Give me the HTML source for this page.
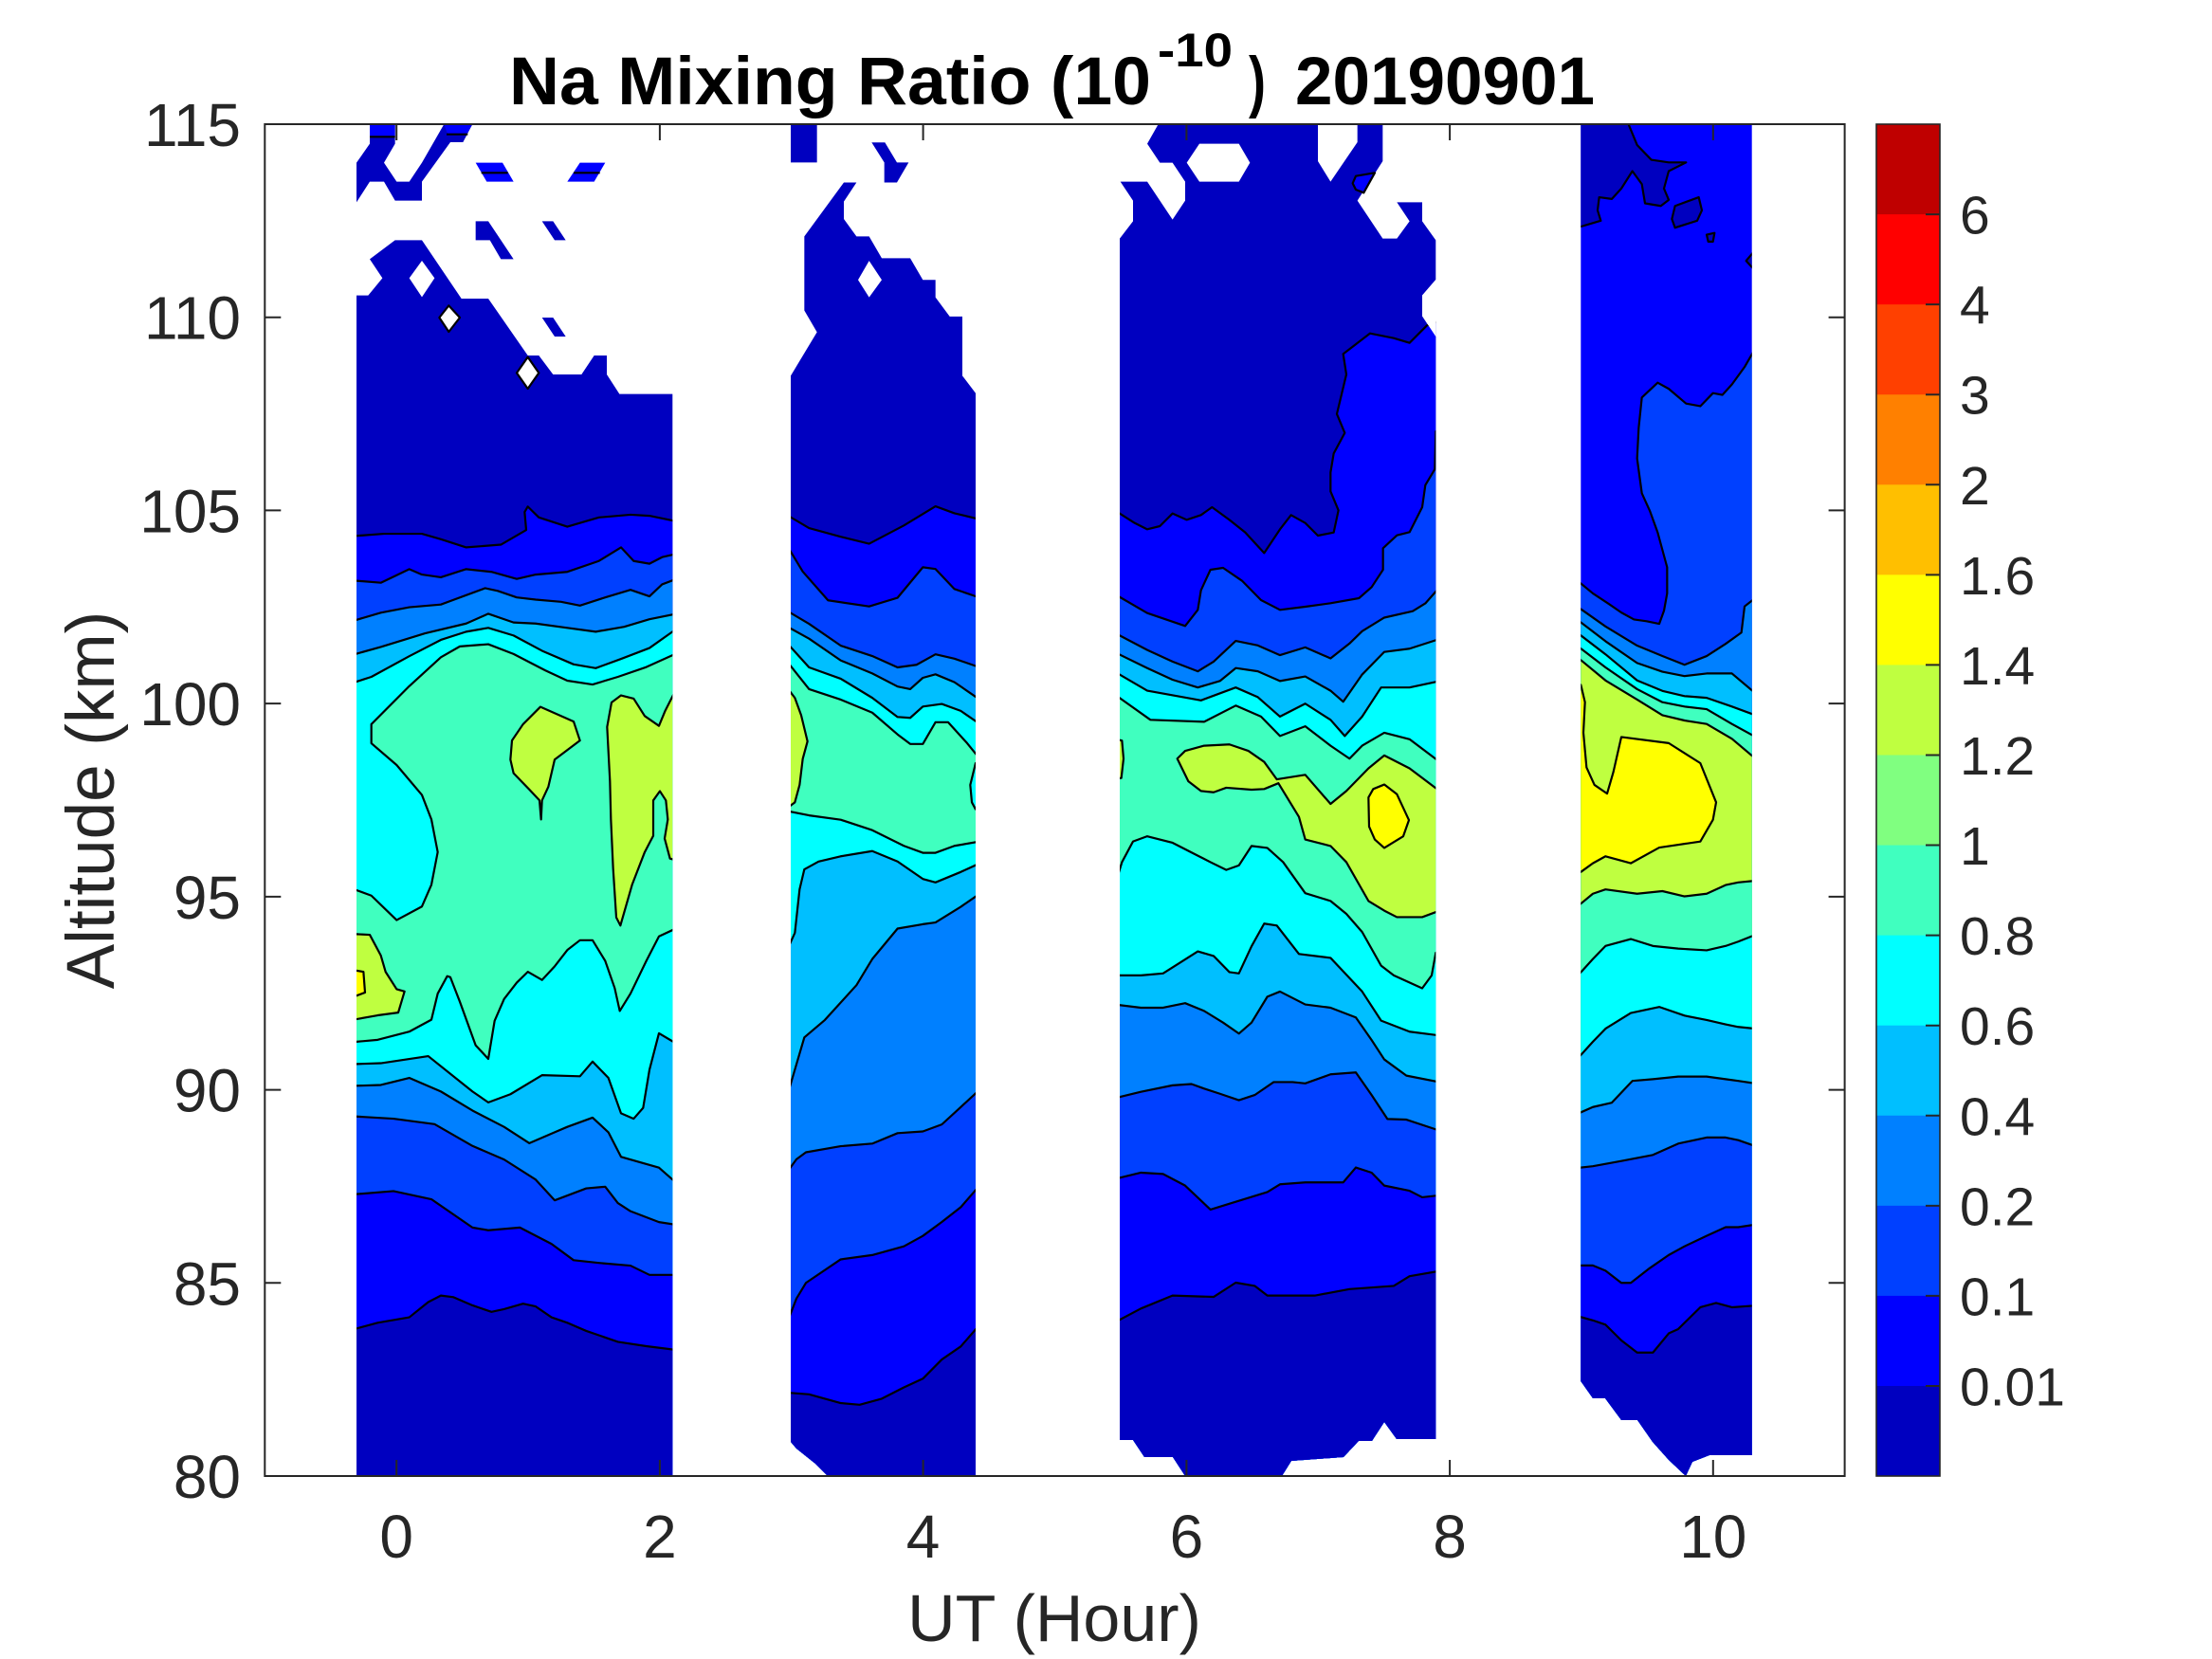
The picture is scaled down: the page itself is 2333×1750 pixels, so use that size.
<!DOCTYPE html>
<html><head><meta charset="utf-8">
<style>
html,body{margin:0;padding:0;background:#fff;}
svg{display:block;}
.k0{fill:#0000C0}.k1{fill:#0000FF}.k2{fill:#0040FF}.k3{fill:#0080FF}.k4{fill:#00BFFF}
.k5{fill:#00FFFF}.k6{fill:#40FFBF}.k7{fill:#BFFF40}.k8{fill:#FFFF00}.kw{fill:#FFFFFF}
.s polygon,.s polyline{stroke:#000;stroke-width:2.2;vector-effect:non-scaling-stroke;stroke-linejoin:round}
.s polygon.n{stroke:none}
.s polyline{fill:none}
text{font-family:"Liberation Sans",Arial,sans-serif;}
</style></head>
<body>
<svg width="2333" height="1750" viewBox="0 0 2333 1750" xmlns="http://www.w3.org/2000/svg">
<defs>
<clipPath id="c1"><polygon points="376,131 709.3,131 709.3,1557 376,1557"/></clipPath>
<clipPath id="c2"><polygon points="834,131 1029,131 1029,1557 873,1557 860,1544 840,1528 834,1521"/></clipPath>
<clipPath id="c3"><polygon points="1181,131 1514.3,131 1514.3,1518 1473,1518 1460,1500 1447,1520 1433,1520 1417,1537 1362,1541 1352,1557 1250,1557 1237,1537 1207,1537 1195,1519 1181,1519"/></clipPath>
<clipPath id="c4"><polygon points="1667.3,131 1847.7,131 1847.7,1535 1803,1535 1785,1542 1778,1557 1760,1540 1743,1521 1727,1498 1710,1498 1693,1475 1680,1475 1667.3,1457"/></clipPath>
</defs>
<rect x="0" y="0" width="2333" height="1750" fill="#fff"/>

<!-- STRIP 1 -->
<g clip-path="url(#c1)">
 <g class="s" transform="matrix(0.33333,0,0,0.33333,365,125)">
  <polygon class="k0 n" points="20,140 33,140 75,80 75,18 155,18 155,80 120,140 160,200 200,200 240,140 310,18 400,18 370,75 330,75 240,200 240,260 155,260 120,200 75,200 33,265 20,265"/>
  <polygon class="k0 n" points="20,560 70,560 115,505 75,445 155,385 240,385 365,570 450,570 575,750 610,750 655,810 745,810 785,750 825,750 825,810 865,872 1045,872 1045,4600 20,4600"/>
  <polygon class="k0 n" points="410,325 450,325 530,445 490,445 455,385 410,385"/>
  <polygon class="k0 n" points="620,325 655,325 695,385 660,385"/>
  <polygon class="k0 n" points="620,630 655,630 695,690 660,690"/>
  <polygon class="k1 n" points="75,18 155,18 155,58 75,58"/>
  <polygon class="k1 n" points="310,18 400,18 380,52 322,52"/>
  <polygon class="k1 n" points="410,140 495,140 530,200 445,200"/>
  <polygon class="k1 n" points="740,140 820,140 785,200 700,200"/>
  <polyline points="75,58 155,58"/>
  <polyline points="318,50 385,50"/>
  <polyline points="428,172 512,172"/>
  <polyline points="720,172 803,172"/>
  <polygon class="kw n" points="240,450 280,505 240,565 200,505"/>
  <polygon class="kw" points="325,592 360,630 325,675 295,630"/>
  <polygon class="kw" points="575,755 610,805 575,855 540,805"/>
 </g>
 <g class="s" transform="matrix(0.33333,0,0,0.57398,365,520)">
  <polygon class="k1" points="5,80 120,75 240,75 300,85 380,100 490,95 570,68 565,35 575,25 610,45 700,62 800,45 900,40 960,42 1045,52 1045,2000 5,2000"/>
  <polygon class="k2" points="5,160 110,165 200,140 240,150 300,155 380,140 460,145 540,158 600,150 700,145 800,125 870,100 910,125 960,130 1000,118 1045,112 1045,2000 5,2000"/>
  <polygon class="k3" points="5,238 110,220 200,210 300,205 440,175 480,180 540,192 600,196 680,200 740,207 820,192 900,178 960,190 1000,168 1045,158 1045,2000 5,2000"/>
  <polygon class="k4" points="5,300 110,283 250,258 380,240 450,222 530,238 600,240 700,248 790,255 880,246 960,232 1045,222 1045,2000 5,2000"/>
  <polygon class="k5" points="5,352 80,338 200,300 300,270 380,255 450,248 530,262 620,290 720,315 790,322 870,305 960,285 1045,250 1045,2000 5,2000"/>
  <polygon class="k6" points="5,730 33,730 80,740 160,785 240,760 270,720 290,660 270,600 240,555 160,500 80,460 80,425 200,355 300,302 360,282 450,278 530,296 630,326 700,345 780,352 860,338 950,320 1045,295 1045,2000 5,2000"/>
  <polygon class="k7" points="525,455 560,425 615,393 720,420 740,455 660,490 640,540 620,565 617,600 612,565 580,545 530,515 520,490"/>
  <polygon class="k7" points="826,430 840,385 870,372 910,378 945,410 990,428 1010,400 1045,360 1045,675 1025,672 1008,635 1018,600 1012,565 993,548 972,565 972,630 945,660 905,720 868,795 855,780 845,690 838,600 835,530"/>
  <polygon class="k7" points="5,810 75,812 110,850 125,880 160,912 185,916 165,955 100,960 5,970"/>
  <polygon class="k8" points="5,875 55,880 60,918 5,930"/>
  <polygon class="k5" points="5,1010 100,1005 200,990 270,968 290,920 320,888 330,890 360,935 410,1015 450,1040 470,970 500,930 540,900 575,880 620,895 660,870 700,840 740,822 780,822 820,860 850,910 866,952 900,920 950,860 990,815 1045,800 1045,2000 5,2000"/>
  <polygon class="k4" points="5,1050 110,1048 260,1035 400,1100 450,1120 520,1105 620,1070 740,1072 780,1045 830,1075 870,1140 910,1150 940,1130 960,1060 990,993 1045,1012 1045,2000 5,2000"/>
  <polygon class="k3" points="5,1090 110,1088 200,1075 300,1100 400,1135 500,1165 580,1195 660,1175 700,1165 780,1148 830,1175 870,1220 990,1240 1045,1268 1045,2000 5,2000"/>
  <polygon class="k2" points="5,1145 150,1150 280,1160 400,1200 500,1225 600,1262 660,1300 760,1278 820,1275 860,1305 900,1320 990,1340 1045,1345 1045,2000 5,2000"/>
  <polygon class="k1" points="5,1290 150,1283 270,1298 400,1350 450,1355 550,1350 650,1380 720,1410 800,1415 900,1420 960,1437 1045,1437 1045,2000 5,2000"/>
  <polygon class="k0" points="5,1540 100,1525 200,1515 260,1487 300,1475 340,1478 400,1493 460,1505 500,1500 560,1490 600,1495 650,1515 700,1525 760,1540 860,1560 950,1568 1045,1575 1045,2000 5,2000"/>
 </g>
</g>

<!-- STRIP 2 -->
<g clip-path="url(#c2)">
 <g class="s" transform="matrix(0.33333,0,0,0.91837,820,130)">
  <polygon class="k0 n" points="30,290 42,290 125,240 85,215 85,130 210,68 250,68 210,90 210,110 250,130 290,130 330,155 420,155 460,180 500,180 500,200 545,222 585,222 585,290 627,310 640,310 640,1800 30,1800"/>
  <polygon class="k0 n" points="30,0 125,0 125,45 30,45"/>
  <polygon class="k0 n" points="298,22 340,22 378,45 415,45 378,68 338,68 338,45"/>
  <polygon class="kw n" points="255,180 290,158 330,180 290,200"/>
  <polygon class="k1" points="30,450 100,465 200,475 290,483 400,462 500,440 560,448 640,455 640,1800 30,1800"/>
  <polygon class="k2" points="30,485 80,515 160,548 290,555 380,545 460,510 500,512 560,535 640,545 640,1800 30,1800"/>
  <polygon class="k3" points="30,560 100,575 200,600 300,612 380,625 440,622 500,610 560,615 640,625 640,1800 30,1800"/>
  <polygon class="k4" points="30,578 100,592 200,617 300,632 380,647 420,650 460,637 500,633 560,642 640,662 640,1800 30,1800"/>
  <polygon class="k5" points="30,597 100,625 200,638 300,660 380,682 420,683 460,670 520,667 580,675 640,690 640,1800 30,1800"/>
  <polygon class="k6" points="30,618 100,650 200,662 300,677 380,702 420,713 460,713 500,688 540,688 600,712 640,730 640,1800 30,1800"/>
  <polygon class="k7" points="30,648 55,660 75,680 95,710 80,730 70,760 55,780 30,787"/>
  <polygon class="k5" points="640,735 627,735 610,760 615,780 627,788 640,788"/>
  <polygon class="k5" points="30,790 100,795 200,800 300,812 400,830 460,838 500,838 560,830 640,825 640,1800 30,1800"/>
  <polygon class="k4" points="30,950 55,930 70,880 85,857 130,848 200,842 300,836 380,848 460,868 500,872 580,860 640,850 640,1800 30,1800"/>
  <polygon class="k3" points="30,1118 85,1050 150,1030 250,990 300,960 380,925 460,920 500,918 580,900 640,885 640,1800 30,1800"/>
  <polygon class="k2" points="30,1205 60,1190 90,1182 200,1175 300,1172 380,1160 460,1158 520,1150 580,1130 640,1110 640,1800 30,1800"/>
  <polygon class="k1" points="30,1378 60,1350 90,1332 200,1305 300,1300 400,1290 460,1278 520,1262 580,1245 640,1220 640,1800 30,1800"/>
  <polygon class="k0" points="30,1458 100,1460 200,1470 260,1472 330,1465 400,1452 460,1442 520,1420 580,1405 640,1380 640,1800 30,1800"/>
 </g>
</g>

<!-- STRIP 3 -->
<g clip-path="url(#c3)">
 <g class="s" transform="matrix(0.33333,0,0,0.33333,1170,125)">
  <polygon class="k0 n" points="20,380 33,380 75,325 75,260 35,200 120,200 200,320 240,260 240,200 200,140 160,140 120,80 155,18 660,18 660,135 700,200 785,75 785,18 865,18 865,135 785,260 865,380 910,380 950,325 910,265 990,265 990,325 1033,385 1045,385 1045,510 1033,510 990,560 990,625 1033,690 1045,690 1045,4600 20,4600"/>
  <polygon class="kw n" points="245,140 285,80 410,80 445,140 410,200 285,200"/>
  <polygon class="k1" points="770,205 780,182 840,172 805,235 780,225"/>
  <polygon class="k1" points="15,1245 25,1245 80,1280 120,1300 160,1290 200,1250 245,1270 290,1255 325,1230 380,1270 430,1310 490,1375 540,1300 575,1255 620,1280 660,1320 710,1310 725,1240 700,1180 700,1120 710,1060 745,995 720,935 750,810 740,745 825,680 900,695 950,710 1005,655 1045,640 1045,4600 15,4600"/>
  <polygon class="k2" points="15,1504 120,1565 240,1606 280,1555 290,1493 320,1428 360,1422 420,1463 480,1524 540,1555 620,1545 700,1534 790,1518 830,1483 866,1428 866,1360 910,1319 950,1309 990,1230 1000,1160 1030,1110 1033,990 1045,990 1045,4600 15,4600"/>
  <polygon class="kw n" points="1050,505 1033,510 990,560 990,625 1033,690 1050,690"/>
 </g>
 <g class="s" transform="matrix(0.33333,0,0,0.6824,1170,500)">
  <polygon class="k3" points="15,245 120,272 200,290 280,305 330,290 400,258 470,265 540,280 620,268 700,285 760,262 800,243 870,222 960,212 1000,200 1045,175 1045,1800 15,1800"/>
  <polygon class="k4" points="15,275 120,300 200,318 280,330 350,320 400,300 470,305 540,320 620,313 700,335 740,352 800,310 870,275 950,270 1045,255 1045,1800 15,1800"/>
  <polygon class="k5" points="15,305 120,335 290,350 400,330 470,345 540,375 620,355 700,380 745,405 800,375 860,330 950,330 1045,320 1045,1800 15,1800"/>
  <polygon class="k6" points="15,340 130,380 300,383 400,358 480,375 540,405 620,390 700,420 760,440 800,420 870,400 950,410 1045,445 1045,1800 15,1800"/>
  <polygon class="k7" points="215,440 240,428 300,420 380,418 440,428 490,445 530,472 620,465 700,510 750,490 820,455 870,435 950,455 1045,490 1045,675 990,685 910,685 870,675 820,660 750,600 700,575 620,565 600,530 535,478 490,487 450,488 370,485 330,492 290,490 250,475"/>
  <polygon class="k7" points="15,410 40,412 45,440 38,470 15,472"/>
  <polygon class="k8" points="820,500 835,487 870,480 910,495 948,535 930,560 870,578 840,565 822,545"/>
  <polygon class="k5" points="15,640 40,600 75,568 120,560 200,570 280,590 320,600 370,612 410,605 450,575 500,578 550,600 620,648 700,660 750,680 800,708 860,760 900,775 990,795 1020,775 1033,740 1045,740 1045,1800 15,1800"/>
  <polygon class="k4" points="15,775 100,775 170,772 280,738 330,745 380,770 410,772 450,730 490,695 530,698 600,742 700,748 800,800 860,845 950,862 1045,868 1045,1800 15,1800"/>
  <polygon class="k3" points="15,820 100,825 170,825 240,818 300,830 360,848 410,865 450,848 500,808 540,800 620,820 700,825 780,840 830,875 870,905 940,930 1045,940 1045,1800 15,1800"/>
  <polygon class="k2" points="15,965 100,955 200,945 260,943 300,950 350,958 410,968 460,960 520,940 580,940 620,942 700,928 780,925 830,960 880,997 940,998 1045,1015 1045,1800 15,1800"/>
  <polygon class="k1" points="15,1090 100,1080 170,1082 240,1100 320,1137 400,1125 500,1110 540,1098 620,1095 740,1095 780,1072 830,1080 870,1100 950,1108 990,1118 1045,1115 1045,1800 15,1800"/>
  <polygon class="k0" points="15,1312 100,1290 200,1270 330,1272 400,1250 460,1255 500,1270 650,1270 760,1260 900,1255 950,1240 1045,1232 1045,1800 15,1800"/>
 </g>
</g>

<!-- STRIP 4 -->
<g clip-path="url(#c4)">
 <rect x="1660" y="120" width="200" height="1480" class="k1"/>
 <g class="s" transform="matrix(0.33333,0,0,0.91837,1660,130)">
  <polygon class="k0" points="10,-10 160,-10 200,25 245,42 300,45 355,45 300,55 285,75 300,88 275,95 225,92 215,70 185,55 150,75 120,87 80,85 75,100 85,112 10,120"/>
  <polygon class="k0" points="310,110 320,95 395,85 405,100 390,112 320,120"/>
  <polygon class="k0" points="420,128 445,126 440,136 425,136"/>
  <polygon class="k0" points="545,158 575,145 575,170"/>
  <polygon class="k2" points="10,525 60,540 110,552 150,562 190,570 230,572 270,575 285,560 295,540 295,510 280,490 265,470 240,445 215,425 200,385 205,350 215,315 265,298 300,305 355,322 400,325 440,310 470,312 500,300 540,280 575,258 575,1800 10,1800"/>
  <polygon class="k3" points="10,555 100,578 200,600 280,612 350,622 420,612 480,598 530,585 540,555 575,545 575,1800 10,1800"/>
  <polygon class="k4" points="10,570 100,595 200,620 280,630 350,635 420,632 500,632 575,655 575,1800 10,1800"/>
  <polygon class="k5" points="10,585 100,610 200,640 280,652 350,658 420,660 500,670 575,680 575,1800 10,1800"/>
  <polygon class="k6" points="10,600 100,625 200,650 280,665 350,670 420,673 500,690 575,705 575,1800 10,1800"/>
  <polygon class="k7" points="10,613 100,640 200,662 280,680 350,686 420,690 500,707 575,730 575,1800 10,1800"/>
  <polygon class="k8" points="10,645 22,645 35,665 30,700 40,740 65,760 105,770 125,745 150,705 300,712 400,735 450,780 440,800 400,825 270,832 180,850 100,842 60,850 22,860 10,860"/>
  <polygon class="k6" points="10,900 60,885 100,880 200,885 280,882 350,888 420,885 480,875 520,872 575,870 575,1800 10,1800"/>
  <polygon class="k5" points="10,980 60,960 100,945 180,937 250,945 330,948 420,950 480,945 520,940 575,932 575,1800 10,1800"/>
  <polygon class="k4" points="10,1075 60,1055 100,1040 180,1022 270,1015 350,1025 420,1030 480,1035 520,1038 575,1040 575,1800 10,1800"/>
  <polygon class="k3" points="10,1138 60,1130 120,1125 185,1100 250,1098 330,1095 420,1095 480,1098 520,1100 575,1103 575,1800 10,1800"/>
  <polygon class="k2" points="10,1200 60,1198 150,1192 250,1185 330,1172 420,1165 480,1165 520,1168 575,1175 575,1800 10,1800"/>
  <polygon class="k1" points="10,1312 60,1312 100,1318 150,1332 180,1332 240,1315 300,1300 350,1290 420,1278 480,1268 520,1268 575,1265 575,1800 10,1800"/>
  <polygon class="k0" points="10,1370 60,1375 100,1380 150,1398 200,1412 250,1412 300,1390 330,1385 400,1360 450,1355 500,1360 575,1358 575,1800 10,1800"/>
 </g>
</g>

<!-- AXES -->
<g stroke="#262626" stroke-width="2" fill="none">
 <rect x="279.3" y="131" width="1666.3" height="1426"/>
 <path d="M418.2,1557v-17M695.9,1557v-17M973.6,1557v-17M1251.4,1557v-17M1529.1,1557v-17M1806.8,1557v-17
 M418.2,131v17M695.9,131v17M973.6,131v17M1251.4,131v17M1529.1,131v17M1806.8,131v17
 M279.3,131h17M279.3,334.7h17M279.3,538.4h17M279.3,742.1h17M279.3,945.9h17M279.3,1149.6h17M279.3,1353.3h17M279.3,1557h17
 M1945.6,131h-17M1945.6,334.7h-17M1945.6,538.4h-17M1945.6,742.1h-17M1945.6,945.9h-17M1945.6,1149.6h-17M1945.6,1353.3h-17M1945.6,1557h-17"/>
</g>
<g fill="#262626" font-size="64" text-anchor="end">
 <text x="254" y="154">115</text>
 <text x="254" y="357.7">110</text>
 <text x="254" y="561.4">105</text>
 <text x="254" y="765.1">100</text>
 <text x="254" y="968.9">95</text>
 <text x="254" y="1172.6">90</text>
 <text x="254" y="1376.3">85</text>
 <text x="254" y="1580">80</text>
</g>
<g fill="#262626" font-size="64" text-anchor="middle">
 <text x="418.2" y="1643">0</text>
 <text x="695.9" y="1643">2</text>
 <text x="973.6" y="1643">4</text>
 <text x="1251.4" y="1643">6</text>
 <text x="1529.1" y="1643">8</text>
 <text x="1806.8" y="1643">10</text>
</g>
<text x="1112" y="1731" font-size="70" fill="#262626" text-anchor="middle">UT (Hour)</text>
<text transform="translate(120,844) rotate(-90)" font-size="71" fill="#262626" text-anchor="middle">Altitude (km)</text>

<!-- TITLE -->
<g font-weight="bold" fill="#000">
 <text x="537" y="110" font-size="71" textLength="677" lengthAdjust="spacingAndGlyphs">Na Mixing Ratio (10</text>
 <text x="1221" y="70" font-size="50" textLength="79" lengthAdjust="spacingAndGlyphs">-10</text>
 <text x="1317" y="110" font-size="71" textLength="18" lengthAdjust="spacingAndGlyphs">)</text>
 <text x="1366" y="110" font-size="71" textLength="316" lengthAdjust="spacingAndGlyphs">20190901</text>
</g>

<!-- COLORBAR -->
<g>
 <rect x="1979" y="131" width="67" height="95.6" fill="#BF0000"/>
 <rect x="1979" y="226.07" width="67" height="95.6" fill="#FF0000"/>
 <rect x="1979" y="321.14" width="67" height="95.6" fill="#FF4000"/>
 <rect x="1979" y="416.21" width="67" height="95.6" fill="#FF8000"/>
 <rect x="1979" y="511.28" width="67" height="95.6" fill="#FFBF00"/>
 <rect x="1979" y="606.35" width="67" height="95.6" fill="#FFFF00"/>
 <rect x="1979" y="701.42" width="67" height="95.6" fill="#BFFF40"/>
 <rect x="1979" y="796.49" width="67" height="95.6" fill="#80FF80"/>
 <rect x="1979" y="891.56" width="67" height="95.6" fill="#40FFBF"/>
 <rect x="1979" y="986.63" width="67" height="95.6" fill="#00FFFF"/>
 <rect x="1979" y="1081.7" width="67" height="95.6" fill="#00BFFF"/>
 <rect x="1979" y="1176.77" width="67" height="95.6" fill="#0080FF"/>
 <rect x="1979" y="1271.84" width="67" height="95.6" fill="#0040FF"/>
 <rect x="1979" y="1366.91" width="67" height="95.6" fill="#0000FF"/>
 <rect x="1979" y="1461.98" width="67" height="95.02" fill="#0000C0"/>
 <rect x="1979" y="131" width="67" height="1426" fill="none" stroke="#262626" stroke-width="1.6"/>
 <path stroke="#262626" stroke-width="2" d="M2031,226.07h15M2031,321.14h15M2031,416.21h15M2031,511.28h15M2031,606.35h15M2031,701.42h15M2031,796.49h15M2031,891.56h15M2031,986.63h15M2031,1081.7h15M2031,1176.77h15M2031,1271.84h15M2031,1366.91h15M2031,1461.98h15"/>
</g>
<g fill="#262626" font-size="57">
 <text x="2067" y="246.6">6</text>
 <text x="2067" y="341.6">4</text>
 <text x="2067" y="436.7">3</text>
 <text x="2067" y="531.8">2</text>
 <text x="2067" y="626.9">1.6</text>
 <text x="2067" y="721.9">1.4</text>
 <text x="2067" y="817">1.2</text>
 <text x="2067" y="912.1">1</text>
 <text x="2067" y="1007.1">0.8</text>
 <text x="2067" y="1102.2">0.6</text>
 <text x="2067" y="1197.3">0.4</text>
 <text x="2067" y="1292.3">0.2</text>
 <text x="2067" y="1387.4">0.1</text>
 <text x="2067" y="1482.5">0.01</text>
</g>
</svg>
</body></html>
